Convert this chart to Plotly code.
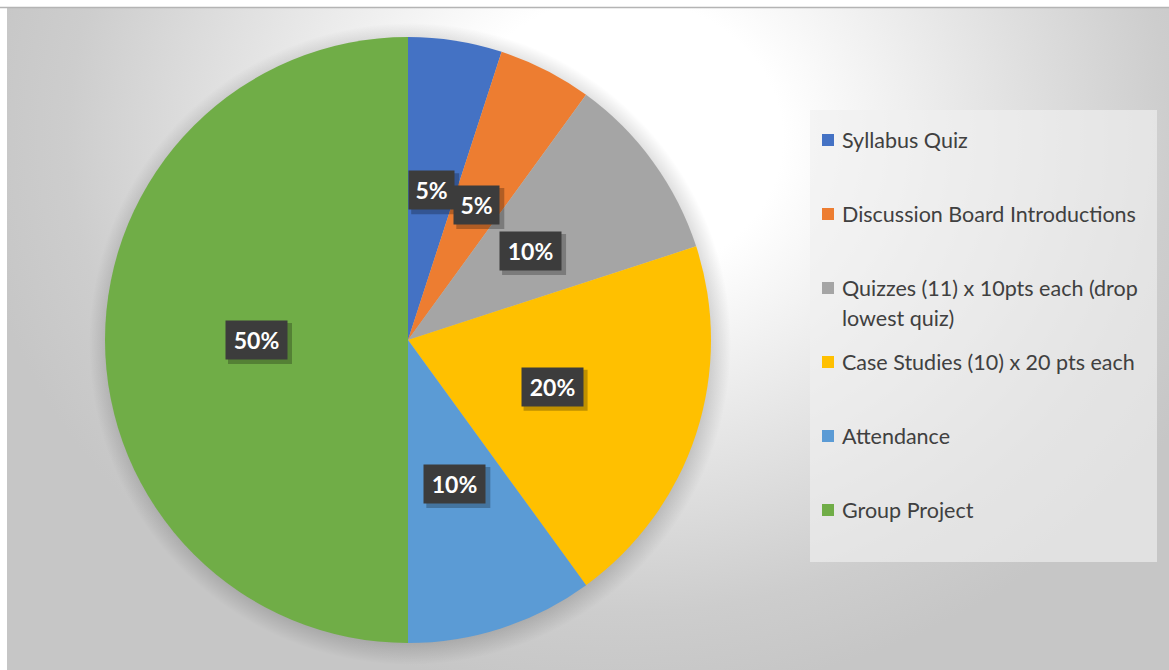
import math, base64, textwrap
import plotly.graph_objects as go

categories = ["Syllabus Quiz", "Discussion Board Introductions",
              "Quizzes (11) x 10pts each (drop lowest quiz)",
              "Case Studies (10) x 20 pts each", "Attendance", "Group Project"]
values = [5, 5, 10, 20, 10, 50]
colors = ["#4472C4", "#ED7D31", "#A5A5A5", "#FFC000", "#5B9BD5", "#70AD47"]

W, H = 1169, 670
CX, CY, R = 408, 340, 303

def px(x):
    return x / W

def py(y):
    return 1 - y / H

# background: radial gradient + soft pie shadow (SVG)
gx, gy = 613, 130
svg = f'''<svg xmlns="http://www.w3.org/2000/svg" width="1162" height="662" viewBox="0 0 1162 662" preserveAspectRatio="none">
<defs>
<radialGradient id="g" cx="{gx}" cy="{gy}" r="650" gradientUnits="userSpaceOnUse" gradientTransform="translate({gx} {gy}) scale(1 0.86) translate(-{gx} -{gy})">
<stop offset="0" stop-color="#ffffff"/>
<stop offset="0.25" stop-color="#ffffff"/>
<stop offset="0.55" stop-color="#e6e6e6"/>
<stop offset="0.85" stop-color="#cdcdcd"/>
<stop offset="1" stop-color="#c6c6c6"/>
</radialGradient>
<radialGradient id="s" cx="{CX-7+2}" cy="{CY-8+4}" r="{R+18}" gradientUnits="userSpaceOnUse">
<stop offset="0.9" stop-color="#000" stop-opacity="0.22"/>
<stop offset="1" stop-color="#000" stop-opacity="0"/>
</radialGradient>
</defs>
<rect x="0" y="0" width="1162" height="662" fill="url(#g)"/>
<circle cx="{CX-7+2}" cy="{CY-8+4}" r="{R+18}" fill="url(#s)"/>
</svg>'''
src = "data:image/svg+xml;base64," + base64.b64encode(svg.encode()).decode()

fig = go.Figure(go.Pie(
    labels=categories, values=values, sort=False, direction="clockwise",
    rotation=0, marker=dict(colors=colors, line=dict(width=0)),
    textinfo="none", hoverinfo="label+percent",
    domain=dict(x=[px(CX - R), px(CX + R)], y=[py(CY + R), py(CY - R)]),
    showlegend=False,
))

shapes = [
    dict(type="line", xref="paper", yref="paper", x0=0, x1=1, y0=py(7.5), y1=py(7.5),
         line=dict(color="#b4b4b4", width=1.5)),
    dict(type="rect", xref="paper", yref="paper", x0=px(810), x1=px(1157),
         y0=py(562), y1=py(110), fillcolor="rgba(240,240,240,0.65)", line=dict(width=0),
         layer="below"),
]
annotations = []

# data labels
total = sum(values)
cum = 0
for v in values:
    theta = 2 * math.pi * (cum + v / 2) / total
    cum += v
    lx = CX + 0.5 * R * math.sin(theta)
    ly = CY - 0.5 * R * math.cos(theta)
    txt = f"{round(100 * v / total)}%"
    bw = 16 * len(txt) + 1
    bh = 26
    pad = 6
    fw, fh = bw + 2 * pad + 2, bh + 2 * pad + 2
    shapes.append(dict(type="rect", xref="paper", yref="paper",
                       x0=px(lx - fw / 2 + 3), x1=px(lx + fw / 2 + 4),
                       y0=py(ly + fh / 2 + 4), y1=py(ly - fh / 2 + 3),
                       fillcolor="rgba(0,0,0,0.25)", line=dict(width=0)))
    annotations.append(dict(xref="paper", yref="paper", x=px(lx), y=py(ly), text=txt,
                            showarrow=False, width=bw, height=bh, borderpad=pad,
                            xanchor="center", yanchor="middle", bgcolor="#3c3c3c",
                            font=dict(family="Lato", size=23, color="white", weight="bold")))

# legend
for i, (c, col) in enumerate(zip(categories, colors)):
    yc = 140 + 74 * i
    shapes.append(dict(type="rect", xref="paper", yref="paper", x0=px(822), x1=px(834),
                       y0=py(yc + 6), y1=py(yc - 6), fillcolor=col, line=dict(width=0)))
    for j, line in enumerate(textwrap.wrap(c, width=31)):
        annotations.append(dict(xref="paper", yref="paper", x=px(840), y=py(yc + 30 * j),
                                text=line, showarrow=False, xanchor="left", yanchor="middle",
                                font=dict(family="Lato", size=21.5, color="#404040")))

fig.update_layout(
    width=W, height=H, margin=dict(l=0, r=0, t=0, b=0),
    paper_bgcolor="white", plot_bgcolor="white",
    images=[dict(source=src, xref="paper", yref="paper", x=px(7), y=py(8),
                 sizex=(W - 7) / W, sizey=(H - 8) / H, xanchor="left", yanchor="top",
                 sizing="stretch", layer="below")],
    shapes=shapes, annotations=annotations,
)

fig.write_html("out.html")
